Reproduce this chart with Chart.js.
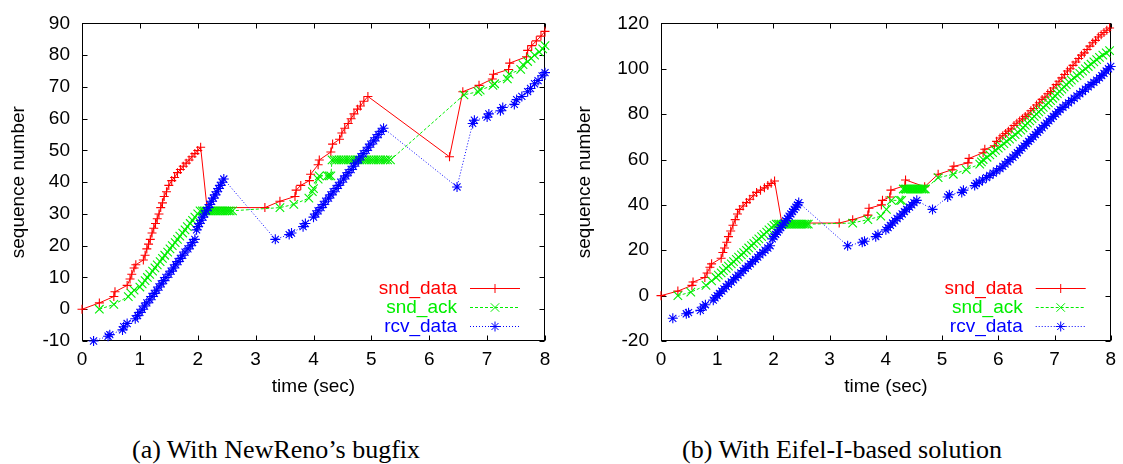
<!DOCTYPE html>
<html>
<head>
<meta charset="utf-8">
<script src="https://cdn.jsdelivr.net/npm/chart.js@4.4.1/dist/chart.umd.min.js"></script>
<style>
  html, body { margin: 0; padding: 0; background: #fff; }
  body { width: 1123px; height: 464px; position: relative; overflow: hidden; }
  .panel { position: absolute; top: 0; height: 410px; }
  #wrapA { left: 0; width: 560px; }
  #wrapB { left: 560px; width: 563px; }
  .cap { position: absolute; top: 437px; width: 400px; margin-left: -200px; text-align: center;
         font: 26px "Liberation Serif", "Times New Roman", serif; line-height: 26px; color: #000; white-space: nowrap; }
</style>
</head>
<body>
<div class="panel" id="wrapA"><canvas id="chartA" width="560" height="410"></canvas></div>
<div class="panel" id="wrapB"><canvas id="chartB" width="563" height="410"></canvas></div>
<div class="cap" style="left:276px">(a) With NewReno’s bugfix</div>
<div class="cap" style="left:842px">(b) With Eifel-I-based solution</div>
<script>
// tick values
var timeTicks = [0, 1, 2, 3, 4, 5, 6, 7, 8];
var aSeqTicks = [-10, 0, 10, 20, 30, 40, 50, 60, 70, 80, 90];
var bSeqTicks = [-20, 0, 20, 40, 60, 80, 100, 120];
var seriesNames = ['snd_data', 'snd_ack', 'rcv_data'];

// (a) With NewReno's bugfix
var aSndDataT = [0, 0.3, 0.55, 0.57, 0.78, 0.83, 0.86, 0.9, 0.93,
  1.06, 1.09, 1.12, 1.15, 1.18, 1.21, 1.24, 1.27, 1.3, 1.33, 1.36, 1.39, 1.42,
  1.46, 1.5, 1.55, 1.6, 1.65, 1.7, 1.75, 1.8, 1.85, 1.9, 1.95, 2.0, 2.05,
  2.16, 3.16, 3.42, 3.68, 3.7, 3.78, 3.93, 3.95, 4.08, 4.1,
  4.3, 4.33, 4.45, 4.49, 4.54, 4.6, 4.65, 4.7, 4.76, 4.81, 4.87, 4.94,
  6.35, 6.58, 6.86, 7.09, 7.11, 7.37, 7.39, 7.68, 7.7, 7.77, 7.85, 7.93, 8.0];
var aSndDataY = [0, 2, 4, 5.5, 7.5, 9.5, 11, 13, 14,
  15.5, 17, 19, 20.5, 22, 24, 25.5, 27, 28.5, 30, 32, 33.5, 35.5,
  37, 39, 40.5, 41.5, 43, 44, 45, 46, 47, 48, 49, 50, 51,
  32, 32, 34, 35.5, 37.5, 39, 40.5, 42.5, 45.5, 47,
  49.5, 52, 53.5, 55.5, 57, 58.5, 60, 61.5, 63, 64, 65.5, 67,
  48, 68.5, 70.5, 72.5, 74, 75.5, 77.5, 79.5, 81.5, 83, 84.5, 86, 87.5];

var aSndAckT = [0.3, 0.55, 0.8, 0.85, 0.9,
  1.0, 1.04, 1.09, 1.13, 1.17, 1.22, 1.26, 1.3, 1.35, 1.39, 1.43, 1.48, 1.52,
  1.56, 1.61, 1.65, 1.69, 1.74, 1.78, 1.82, 1.87, 1.91, 1.95, 2.0, 2.04,
  2.08, 2.11, 2.14, 2.17, 2.2, 2.23, 2.26, 2.29, 2.32, 2.35, 2.38, 2.41, 2.44, 2.47, 2.5, 2.53, 2.56, 2.6,
  3.42, 3.66, 3.92, 3.98, 4.0, 4.08, 4.1, 4.24, 4.27, 4.3,
  4.32, 4.36, 4.4, 4.44, 4.48, 4.52, 4.56, 4.6, 4.64, 4.68, 4.72, 4.76, 4.8,
  4.84, 4.88, 4.92, 4.96, 5.0, 5.04, 5.08, 5.12, 5.16, 5.2, 5.24, 5.28, 5.33,
  6.6, 6.84, 6.88, 7.1, 7.13, 7.35, 7.38, 7.58, 7.62, 7.7, 7.76, 7.82, 7.9, 7.96, 8.0];
var aSndAckY = [0, 1.5, 4, 5, 6,
  7, 8, 9, 10, 11, 12, 13, 14, 15, 16, 17, 18, 19,
  20, 21, 22, 23, 24, 25, 26, 27, 28, 29, 30, 31,
  31, 31, 31, 31, 31, 31, 31, 31, 31, 31, 31, 31, 31, 31, 31, 31, 31, 31,
  32, 33, 35, 37, 38, 41, 42, 42, 42, 42,
  47, 47, 47, 47, 47, 47, 47, 47, 47, 47, 47, 47, 47,
  47, 47, 47, 47, 47, 47, 47, 47, 47, 47, 47, 47, 47,
  67.5, 68.5, 69, 70.5, 71, 72.5, 74, 75.5, 77, 78, 79, 80, 81, 82, 83];

var aRcvDataT = [0.2, 0.45, 0.48, 0.7, 0.72, 0.78, 0.92, 0.96,
  1.0, 1.04, 1.08, 1.12, 1.17, 1.21, 1.25, 1.29, 1.33, 1.37, 1.41, 1.45,
  1.5, 1.54, 1.58, 1.62, 1.66, 1.7, 1.74, 1.78, 1.83, 1.87, 1.91, 1.95,
  1.98, 2.0, 2.03, 2.06, 2.09, 2.12, 2.15, 2.18, 2.21, 2.24, 2.27, 2.3, 2.33, 2.36, 2.39, 2.42, 2.45,
  3.34, 3.58, 3.62, 3.82, 3.86,
  4.0, 4.04, 4.08, 4.13, 4.17, 4.21, 4.26, 4.3, 4.34, 4.39, 4.43, 4.47, 4.52, 4.56, 4.6,
  4.65, 4.69, 4.73, 4.78, 4.82, 4.86, 4.91, 4.95, 4.99, 5.04, 5.08, 5.12, 5.17, 5.21,
  6.48, 6.75, 6.78, 7.0, 7.03, 7.23, 7.27, 7.47, 7.51, 7.6, 7.7, 7.75, 7.82, 7.88, 7.95, 8.0];
var aRcvDataY = [-10, -8.5, -8, -6.5, -5.5, -4.5, -3, -2,
  -1, 0, 1, 2, 3, 4, 5, 6, 7, 8, 9, 10,
  11, 12, 13, 14, 15, 16, 17, 18, 19, 20, 21, 22,
  25, 26, 27, 28, 29, 30, 31, 32, 33, 34, 35, 36, 37, 38, 39, 40, 41,
  22, 23.5, 24, 26, 27,
  29, 30, 31, 32, 33, 34, 35, 36, 37, 38, 39, 40, 41, 42, 43,
  44, 45, 46, 47, 48, 49, 50, 51, 52, 53, 54, 55, 56, 57,
  38.5, 58.5, 59.5, 60.5, 61.5, 62.5, 63.5, 64.5, 66, 67, 68.5, 69.5, 71, 72, 73.5, 74.5];

// (b) With Eifel-I-based solution
var bSndDataT = [0, 0.3, 0.55, 0.57, 0.78, 0.82, 0.87, 0.9,
  1.07, 1.1, 1.13, 1.17, 1.2, 1.24, 1.28, 1.32, 1.36, 1.4,
  1.46, 1.52, 1.58, 1.64, 1.7, 1.77, 1.84, 1.9, 1.96, 2.02,
  2.15, 3.17, 3.41, 3.68, 3.7, 3.92, 3.94, 4.07, 4.09, 4.34, 4.35, 4.69,
  4.93, 5.18, 5.21, 5.46, 5.48, 5.73, 5.76, 5.93, 5.97,
  6.03, 6.08, 6.13, 6.18, 6.23, 6.28, 6.33, 6.38, 6.43, 6.48, 6.53, 6.58, 6.63, 6.68, 6.73,
  6.78, 6.83, 6.88, 6.93, 6.98, 7.03, 7.08, 7.13, 7.18, 7.23, 7.28, 7.33, 7.38, 7.43, 7.48,
  7.53, 7.58, 7.63, 7.68, 7.73, 7.78, 7.83, 7.88, 7.93, 7.98];
var bSndDataY = [0, 2, 4.5, 6, 8, 10, 12.5, 14,
  16.5, 19, 21, 23.5, 26, 28.5, 31, 33.5, 36, 38,
  39.5, 41, 42.5, 44, 45.5, 46.5, 47.5, 48.5, 49.5, 50.5,
  32, 32, 33.5, 35.5, 38.5, 40, 42, 43.5, 46.5, 48.5, 51, 48,
  53.5, 55.5, 57, 58.5, 60.5, 63, 64.5, 66, 68,
  69.5, 70.5, 71.5, 72.5, 73.5, 75, 76, 77, 78, 79, 80, 81.5, 82.5, 84, 85,
  86.5, 87.5, 89, 90, 91.5, 93, 94.5, 96, 97.5, 99, 100, 101.5, 103, 104.5, 106,
  107, 108.5, 110, 111.5, 112.5, 114, 115, 116, 117, 118];

var bSndAckT = [0.3, 0.53, 0.8, 0.9,
  0.98, 1.02, 1.07, 1.11, 1.16, 1.2, 1.25, 1.29, 1.34, 1.38, 1.43, 1.47,
  1.52, 1.56, 1.61, 1.65, 1.7, 1.74, 1.79, 1.83, 1.88, 1.92, 1.97, 2.01,
  2.05, 2.08, 2.11, 2.14, 2.17, 2.2, 2.23, 2.26, 2.29, 2.32, 2.35, 2.38, 2.41, 2.44, 2.47, 2.5, 2.53, 2.56, 2.59, 2.62,
  3.41, 3.68, 3.91, 4.01, 4.1, 4.25, 4.28,
  4.31, 4.34, 4.37, 4.4, 4.43, 4.46, 4.49, 4.52, 4.55, 4.58, 4.61, 4.64, 4.67, 4.7,
  4.93, 5.2, 5.43, 5.67,
  5.7, 5.73, 5.8, 5.85, 5.9, 5.95, 6.0, 6.05, 6.1, 6.15, 6.2, 6.25, 6.3, 6.35, 6.4,
  6.44, 6.48, 6.52, 6.56, 6.6, 6.64, 6.68, 6.72, 6.76, 6.8,
  6.85, 6.89, 6.93, 6.97, 7.01, 7.05, 7.09, 7.13, 7.17, 7.21,
  7.26, 7.3, 7.35, 7.4, 7.45, 7.5, 7.55, 7.6, 7.65, 7.7, 7.75, 7.8, 7.86, 7.92, 7.98];
var bSndAckY = [0, 1.5, 4.5, 6.5,
  8, 9, 10, 11, 12, 13, 14, 15, 16, 17, 18, 19,
  20, 21, 22, 23, 24, 25, 26, 27, 28, 29, 30, 31,
  31.5, 31.5, 31.5, 31.5, 31.5, 31.5, 31.5, 31.5, 31.5, 31.5, 31.5, 31.5, 31.5, 31.5, 31.5, 31.5, 31.5, 31.5, 31.5, 31.5,
  32, 33.5, 35, 38, 42, 42, 42,
  47, 47, 47, 47, 47, 47, 47, 47, 47, 47, 47, 47, 47, 47,
  52, 53.5, 55.5, 58,
  59, 60, 61, 62, 63, 64, 65, 66, 67, 68, 69, 70, 71, 72, 73,
  74, 75, 76, 77, 78, 79, 80, 81, 82, 83,
  84, 85, 86, 87, 88, 89, 90, 91, 92, 93,
  94, 95, 96, 97, 98, 99, 100, 101, 102, 103, 104, 105, 106, 107, 108];

var bRcvDataT = [0.21, 0.45, 0.49, 0.7, 0.75, 0.79, 0.93, 0.96,
  1.0, 1.04, 1.08, 1.12, 1.16, 1.2, 1.25, 1.29, 1.33, 1.37, 1.42, 1.46,
  1.5, 1.55, 1.59, 1.63, 1.68, 1.72, 1.76, 1.81, 1.85, 1.9, 1.94,
  1.98, 2.01, 2.04, 2.07, 2.1, 2.13, 2.16, 2.19, 2.22, 2.25, 2.28, 2.31, 2.34, 2.37, 2.4, 2.43, 2.45,
  3.32, 3.58, 3.62, 3.82, 3.86,
  4.0, 4.04, 4.08, 4.12, 4.16, 4.2, 4.25, 4.29, 4.33, 4.37, 4.42, 4.46, 4.5, 4.55,
  4.83, 5.1, 5.13, 5.35, 5.38, 5.58, 5.61,
  5.66, 5.72, 5.79, 5.85, 5.91, 5.97, 6.03, 6.08, 6.12, 6.17, 6.21, 6.26, 6.3,
  6.34, 6.38, 6.42, 6.46, 6.5, 6.54, 6.58, 6.62, 6.66, 6.7,
  6.74, 6.78, 6.82, 6.86, 6.9, 6.94, 6.98, 7.02, 7.06, 7.1,
  7.15, 7.2, 7.25, 7.3, 7.35, 7.4, 7.45, 7.5, 7.55, 7.6, 7.65, 7.7, 7.75, 7.8,
  7.84, 7.88, 7.92, 7.96, 8.0];
var bRcvDataY = [-10, -8, -7.5, -6.5, -5, -4, -2, -1,
  0, 1, 2, 3, 4, 5, 6, 7, 8, 9, 10, 11,
  12, 13, 14, 15, 16, 17, 18, 19, 20, 21, 22,
  25, 26, 27, 28, 29, 30, 31, 32, 33, 34, 35, 36, 37, 38, 39, 40, 41,
  22, 23.5, 24, 26, 27,
  29, 30, 31, 32, 33, 34, 35, 36, 37, 38, 39, 40, 41, 42,
  38, 43.5, 44.5, 45.5, 46.5, 48.5, 49.5,
  50, 51, 52, 53, 54, 55, 56, 57, 58, 59, 60, 61, 62,
  63, 64, 65, 66, 67, 68, 69, 70, 71, 72,
  73, 74, 75, 76, 77, 78, 79, 80, 81, 82,
  83, 84, 85, 86, 87, 88, 89, 90, 91, 92, 93, 94, 95, 96,
  97, 98, 99, 100, 101];

var FONT = '"Liberation Sans", Arial, Helvetica, sans-serif';

function drawMarker(ctx, style, r, x, y) {
  var d = r * Math.SQRT1_2;
  ctx.beginPath();
  if (style === 'cross' || style === 'star') {
    ctx.moveTo(x - r, y); ctx.lineTo(x + r, y);
    ctx.moveTo(x, y - r); ctx.lineTo(x, y + r);
  }
  if (style === 'crossRot' || style === 'star') {
    ctx.moveTo(x - d, y - d); ctx.lineTo(x + d, y + d);
    ctx.moveTo(x - d, y + d); ctx.lineTo(x + d, y - d);
  }
  ctx.stroke();
}

// gnuplot style border with inward ticks on all four sides, plus the key
var gpFrame = {
  id: 'gpFrame',
  beforeDatasetsDraw: function (chart) {
    var ctx = chart.ctx, a = chart.chartArea;
    var L = Math.round(a.left) + 0.5, R = Math.round(a.right) - 0.5;
    var T = Math.round(a.top) + 0.5, B = Math.round(a.bottom) - 0.5;
    ctx.save();
    ctx.strokeStyle = '#000';
    ctx.lineWidth = 1;
    ctx.beginPath();
    chart.scales.x.ticks.forEach(function (t) {
      var px = Math.round(chart.scales.x.getPixelForValue(t.value)) + 0.5;
      ctx.moveTo(px, B); ctx.lineTo(px, B - 5);
      ctx.moveTo(px, T); ctx.lineTo(px, T + 5);
    });
    chart.scales.y.ticks.forEach(function (t) {
      var py = Math.round(chart.scales.y.getPixelForValue(t.value)) + 0.5;
      ctx.moveTo(L, py); ctx.lineTo(L + 5, py);
      ctx.moveTo(R, py); ctx.lineTo(R - 5, py);
    });
    ctx.stroke();
    ctx.strokeRect(L, T, R - L, B - T);
    ctx.restore();
  },
  afterDatasetsDraw: function (chart) {
    var ctx = chart.ctx, a = chart.chartArea;
    var rows = [53, 34, 15];
    ctx.save();
    ctx.font = '19px ' + FONT;
    ctx.textAlign = 'right';
    ctx.textBaseline = 'middle';
    chart.data.datasets.forEach(function (ds, i) {
      var y = Math.round(a.bottom - rows[i]) + 0.5;
      ctx.fillStyle = ds.borderColor;
      ctx.fillText(ds.label, a.right - 88, y);
      ctx.strokeStyle = ds.borderColor;
      ctx.lineWidth = 1;
      ctx.setLineDash(ds.borderDash);
      ctx.beginPath();
      ctx.moveTo(a.right - 75, y); ctx.lineTo(a.right - 25, y);
      ctx.stroke();
      ctx.setLineDash([]);
      drawMarker(ctx, ds.pointStyle, ds.pointRadius, a.right - 50, y);
    });
    ctx.restore();
  }
};

function series(label, t, y, color, style, radius, dash, order) {
  return {
    label: label,
    data: t.map(function (v, i) { return { x: v, y: y[i] }; }),
    showLine: true,
    borderColor: color,
    backgroundColor: color,
    borderWidth: 1,
    borderDash: dash,
    pointStyle: style,
    pointRadius: radius,
    pointHoverRadius: radius,
    pointBorderWidth: 1.1,
    pointBorderColor: color,
    pointBackgroundColor: color,
    tension: 0,
    clip: 8,
    order: order
  };
}

function makePanel(id, sets, yTicks, yWidth, padRight, titlePad) {
  new Chart(document.getElementById(id), {
    type: 'scatter',
    data: {
      datasets: [
        series(seriesNames[0], sets[0], sets[1], '#ff0000', 'cross', 4.5, [], 3),
        series(seriesNames[1], sets[2], sets[3], '#00ee00', 'crossRot', 6, [3, 2], 2),
        series(seriesNames[2], sets[4], sets[5], '#0000ff', 'star', 5, [1, 2], 1)
      ]
    },
    options: {
      responsive: false,
      animation: false,
      events: [],
      layout: { padding: { left: 0, right: padRight, top: 6.6, bottom: 0 } },
      plugins: { legend: { display: false }, tooltip: { enabled: false } },
      scales: {
        x: {
          type: 'linear',
          min: timeTicks[0], max: timeTicks[timeTicks.length - 1],
          afterFit: function (s) { s.height = 69; },
          grid: { display: false, drawTicks: false },
          border: { display: false },
          ticks: { stepSize: timeTicks[1] - timeTicks[0], color: '#000', font: { size: 19, family: FONT }, padding: 7, maxRotation: 0 },
          title: { display: true, text: 'time (sec)', color: '#000', font: { size: 19, family: FONT }, padding: { top: 0, bottom: 12 } }
        },
        y: {
          type: 'linear',
          min: yTicks[0], max: yTicks[yTicks.length - 1],
          afterFit: function (s) { s.width = yWidth; },
          grid: { display: false, drawTicks: false },
          border: { display: false },
          ticks: { stepSize: yTicks[1] - yTicks[0], color: '#000', font: { size: 19, family: FONT }, padding: 12 },
          title: { display: true, text: 'sequence number', color: '#000', font: { size: 19, family: FONT }, padding: { top: titlePad, bottom: 0 } }
        }
      }
    },
    plugins: [gpFrame]
  });
}

makePanel('chartA', [aSndDataT, aSndDataY, aSndAckT, aSndAckY, aRcvDataT, aRcvDataY], aSeqTicks, 82, 15, 7);
makePanel('chartB', [bSndDataT, bSndDataY, bSndAckT, bSndAckY, bRcvDataT, bRcvDataY], bSeqTicks, 101, 10.7, 13);
</script>
</body>
</html>
